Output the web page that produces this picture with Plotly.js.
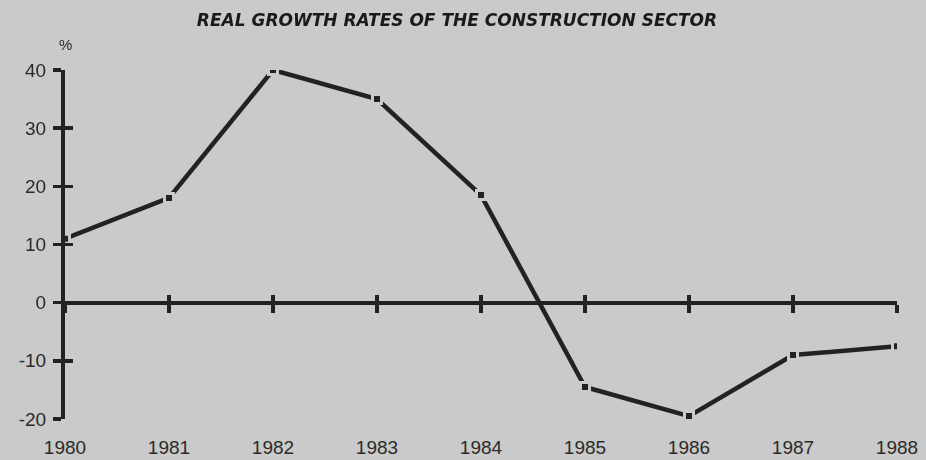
<!DOCTYPE html>
<html>
<head>
<meta charset="utf-8">
<script src="https://cdn.plot.ly/plotly-3.0.1.min.js"></script>
<style>html,body{margin:0;padding:0;background:#cacaca;}#chart{width:926px;height:460px;}</style>
</head>
<body>
<div id="chart"></div>
<script>
const years = [1980, 1981, 1982, 1983, 1984, 1985, 1986, 1987, 1988];
const yearLabels = ['1980', '1981', '1982', '1983', '1984', '1985', '1986', '1987', '1988'];
const growth = [11, 18, 40, 35, 18.5, -14.5, -19.5, -9, -7.5];
const yTicks = [-20, -10, 0, 10, 20, 30, 40];
const yTickLabels = ['-20', '-10', '0', '10', '20', '30', '40'];

const bg = '#cacaca';
const ink = '#222222';
const tickFont = {family: 'Liberation Sans, Arial, sans-serif', size: 19, color: '#2a2a2a'};

const traces = [
  {x: years, y: growth, xaxis: 'x2', yaxis: 'y', type: 'scatter', mode: 'lines+markers',
   line: {color: ink, width: 4.5},
   marker: {symbol: 'square', size: 9, color: ink, line: {color: bg, width: 3}},
   hoverinfo: 'skip', showlegend: false},
  {x: years, y: growth, xaxis: 'x', yaxis: 'y', mode: 'markers', opacity: 0, hoverinfo: 'skip', showlegend: false},
  {x: years, y: growth, xaxis: 'x3', yaxis: 'y', mode: 'markers', opacity: 0, hoverinfo: 'skip', showlegend: false},
  {x: years, y: growth, xaxis: 'x', yaxis: 'y2', mode: 'markers', opacity: 0, hoverinfo: 'skip', showlegend: false}
];

const xr = [years[0], years[years.length - 1]];
const yr = [yTicks[0], yTicks[yTicks.length - 1]];
const zeroPos = (0 - yr[0]) / (yr[1] - yr[0]);

const layout = {
  width: 926, height: 460,
  paper_bgcolor: bg, plot_bgcolor: bg,
  margin: {l: 65, r: 29, t: 70, b: 41},
  title: {text: 'REAL GROWTH RATES OF THE CONSTRUCTION SECTOR',
          font: {family: 'DejaVu Sans, Arial, sans-serif', size: 17, weight: 'bold', style: 'italic', color: '#1a1a1a'},
          xref: 'container', yref: 'container', x: 0.4935, y: 1 - 20 / 460, xanchor: 'center', yanchor: 'middle'},
  xaxis: {range: xr, domain: [0, 1], anchor: 'y', tickvals: years, ticktext: yearLabels,
          showline: false, showgrid: false, zeroline: false, ticks: '',
          tickfont: tickFont, ticklabelstandoff: 15},
  xaxis2: {range: xr, overlaying: 'x', anchor: 'free', position: zeroPos, tickvals: years,
           showline: true, linecolor: ink, linewidth: 4, showgrid: false, zeroline: false,
           ticks: 'outside', ticklen: 8, tickwidth: 3.5, tickcolor: ink, showticklabels: false},
  xaxis3: {range: xr, overlaying: 'x', anchor: 'free', position: zeroPos, tickvals: years,
           showline: false, showgrid: false, zeroline: false,
           ticks: 'inside', ticklen: 8, tickwidth: 3.5, tickcolor: ink, showticklabels: false},
  yaxis: {range: yr, domain: [0, 1], anchor: 'x', tickvals: yTicks, ticktext: yTickLabels,
          showline: true, linecolor: ink, linewidth: 4, showgrid: false, zeroline: false,
          ticks: 'outside', ticklen: 8, tickwidth: 3.5, tickcolor: ink,
          tickfont: tickFont, ticklabelstandoff: 3},
  yaxis2: {range: yr, overlaying: 'y', anchor: 'x', tickvals: yTicks,
           showline: false, showgrid: false, zeroline: false,
           ticks: 'inside', ticklen: 8, tickwidth: 3.5, tickcolor: ink, showticklabels: false},
  annotations: [{text: '%', xref: 'paper', yref: 'paper', x: 0, y: 1, yshift: 26, xanchor: 'center', yanchor: 'middle',
                 showarrow: false, font: {family: 'Liberation Sans, Arial, sans-serif', size: 15, color: '#2a2a2a'}}]
};

Plotly.newPlot('chart', traces, layout, {displayModeBar: false, staticPlot: true});
</script>
</body>
</html>
